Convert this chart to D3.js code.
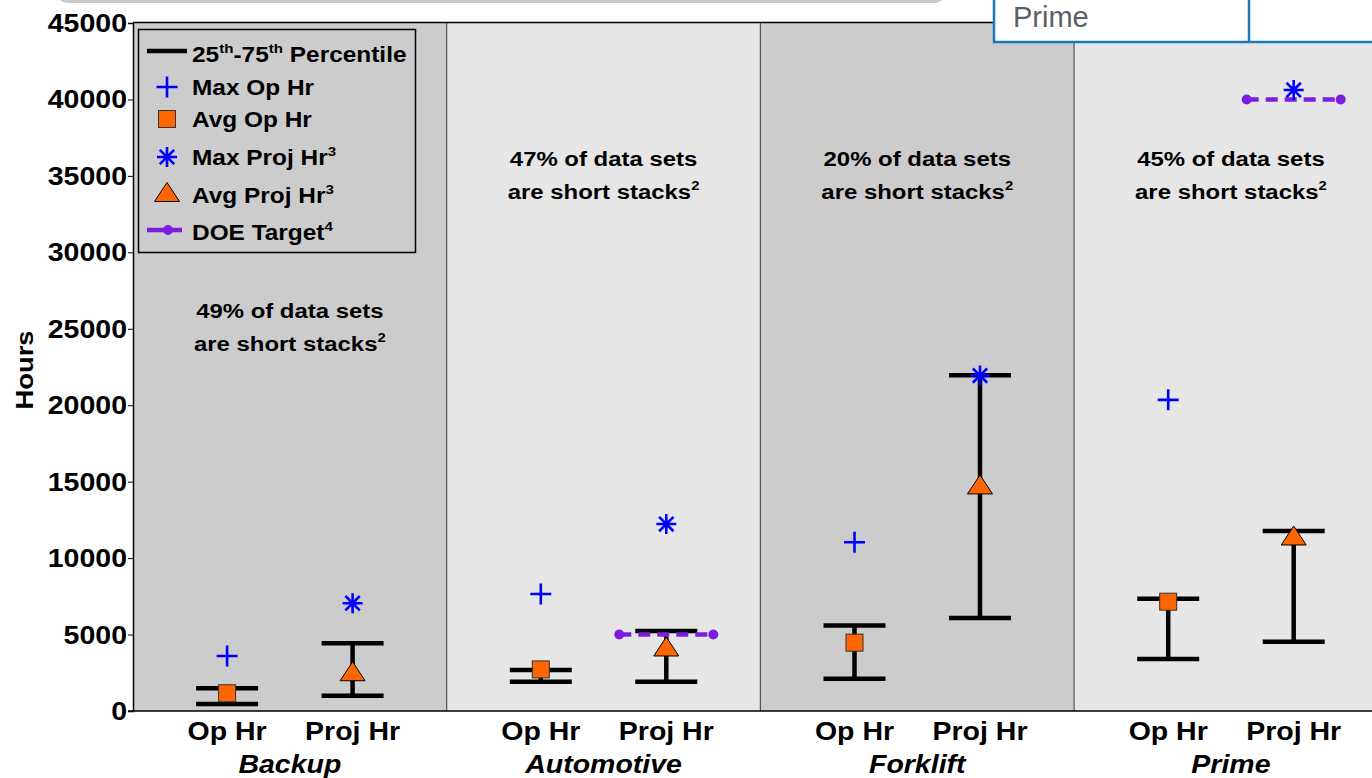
<!DOCTYPE html>
<html>
<head>
<meta charset="utf-8">
<script src="https://cdn.jsdelivr.net/npm/d3@7/dist/d3.min.js"></script>
<style>
body { margin: 0; background: #fff; overflow: hidden; }
text { font-family: Arial, "Liberation Sans", sans-serif; }
</style>
</head>
<body>
<svg id="chart" width="1372" height="778"></svg>
<script>
// values
var groups = ["Backup", "Automotive", "Forklift", "Prime"];
var kinds = ["Op Hr", "Proj Hr"];
var shortPct = [49, 47, 20, 45];
var opP25 = [460, 1920, 2110, 3400];
var opP75 = [1490, 2680, 5600, 7350];
var opAvg = [1160, 2720, 4470, 7150];
var opMax = [3600, 7650, 11040, 20350];
var projP25 = [1000, 1920, 6085, 4535];
var projP75 = [4430, 5230, 21960, 11775];
var projAvg = [2600, 4220, 14820, 11480];
var projMax = [7050, 12230, 21940, 40620];
var doeTarget = [null, 5000, null, 40000];
var yTicks = [0, 5000, 10000, 15000, 20000, 25000, 30000, 35000, 40000, 45000];
var panelFill = ["#cccccc", "#e6e6e6", "#cccccc", "#e6e6e6"];

var margin = {left: 133, top: 23, bottom: 711}
    , panelW = 313.7
    , sx = 1.14
    , blue = "#0000ff"
    , orange = "#ff6600"
    , purple = "#7d1de0";

var svg = d3.select("#chart");

var xGroup = d3.scaleBand().domain(groups).range([margin.left, margin.left + panelW * 4]);
var xKind = d3.scalePoint().domain(kinds).range([0, xGroup.bandwidth()]).padding(0.75);
var y = d3.scaleLinear().domain([0, 45000]).range([margin.bottom, margin.top]);

function cx(i, k) { return xGroup(groups[i]) + xKind(kinds[k]); }

// stretched bold text like the original
function label(g, x, yy, size, anchor, stretch) {
    return g.append("text")
        .attr("transform", "translate(" + x + "," + yy + ") scale(" + (stretch || sx) + ",1)")
        .attr("text-anchor", anchor || "middle")
        .style("font-size", size + "px")
        .style("font-weight", "bold")
        .style("fill", "#000");
}
// superscript, optionally followed by normal text
function sup(t, s, size, after) {
    t.append("tspan").attr("dy", -size * 0.42).style("font-size", (size * 0.62) + "px").text(s);
    if (after) t.append("tspan").attr("dy", size * 0.42).text(after);
    return t;
}

// panels
svg.selectAll(".panel").data(groups).enter().append("rect")
    .attr("x", function (d) { return xGroup(d); })
    .attr("y", margin.top)
    .attr("width", xGroup.bandwidth())
    .attr("height", margin.bottom - margin.top)
    .style("fill", function (d, i) { return panelFill[i]; });
svg.selectAll(".divider").data(groups.slice(1)).enter().append("line")
    .attr("x1", function (d) { return xGroup(d); }).attr("x2", function (d) { return xGroup(d); })
    .attr("y1", margin.top).attr("y2", margin.bottom)
    .style("stroke", "#555").style("stroke-width", 1.2);

// frame + y axis
svg.append("line").attr("x1", margin.left).attr("x2", 1372).attr("y1", margin.top - 0.5).attr("y2", margin.top - 0.5)
    .style("stroke", "#000").style("stroke-width", 1.5);
svg.append("line").attr("x1", margin.left - 5).attr("x2", 1372).attr("y1", margin.bottom).attr("y2", margin.bottom)
    .style("stroke", "#000").style("stroke-width", 1.5);
var yAxis = d3.axisLeft(y).tickValues(yTicks).tickSize(5).tickFormat(function (d) { return d; });
var ax = svg.append("g").attr("transform", "translate(" + margin.left + ",0)").call(yAxis);
ax.select(".domain").style("stroke-width", 1.5);
ax.selectAll(".tick text").remove();
ax.selectAll(".tick").each(function (d) {
    label(svg, margin.left - 6, y(d) + 9, 25, "end").text(d);
});
svg.append("text")
    .attr("transform", "translate(33,370) rotate(-90) scale(1.14,1)")
    .attr("text-anchor", "middle")
    .style("font-size", "24px").style("font-weight", "bold").text("Hours");

// x labels
groups.forEach(function (g, i) {
    kinds.forEach(function (k, j) {
        label(svg, cx(i, j), 740, 25).text(k);
    });
    label(svg, xGroup(g) + xGroup.bandwidth() / 2, 773, 25).style("font-style", "italic").text(g);
});

// short stack notes
groups.forEach(function (g, i) {
    var mx = xGroup(g) + xGroup.bandwidth() / 2;
    var top = i === 0 ? 318 : 166;
    label(svg, mx, top, 21).text(shortPct[i] + "% of data sets");
    sup(label(svg, mx, top + 33, 21).text("are short stacks"), "2", 21);
});

// error bars
var bars = [];
groups.forEach(function (g, i) {
    bars.push({x: cx(i, 0), lo: opP25[i], hi: opP75[i]});
    bars.push({x: cx(i, 1), lo: projP25[i], hi: projP75[i]});
});
var capW = 31;
var eb = svg.selectAll(".eb").data(bars).enter().append("g").style("stroke", "#000").style("stroke-width", 4.5);
eb.append("line").attr("x1", function (d) { return d.x; }).attr("x2", function (d) { return d.x; })
    .attr("y1", function (d) { return y(d.lo); }).attr("y2", function (d) { return y(d.hi); });
eb.append("line").attr("x1", function (d) { return d.x - capW; }).attr("x2", function (d) { return d.x + capW; })
    .attr("y1", function (d) { return y(d.lo); }).attr("y2", function (d) { return y(d.lo); });
eb.append("line").attr("x1", function (d) { return d.x - capW; }).attr("x2", function (d) { return d.x + capW; })
    .attr("y1", function (d) { return y(d.hi); }).attr("y2", function (d) { return y(d.hi); });

// DOE target
function doe(g, x1, x2, yy) {
    g.append("line").attr("x1", x1).attr("x2", x2).attr("y1", yy).attr("y2", yy)
        .style("stroke", purple).style("stroke-width", 4.5).style("stroke-dasharray", "12,7");
    g.append("circle").attr("cx", x1).attr("cy", yy).attr("r", 5).style("fill", purple);
    g.append("circle").attr("cx", x2).attr("cy", yy).attr("r", 5).style("fill", purple);
}
doeTarget.forEach(function (d, i) {
    if (d === null) return;
    doe(svg, cx(i, 1) - 47, cx(i, 1) + 47, y(d));
});

// markers
function plus(g, x, yy, s) {
    g.append("path").attr("d", "M" + (x - s) + "," + yy + "H" + (x + s) + "M" + x + "," + (yy - s) + "V" + (yy + s))
        .style("stroke", blue).style("stroke-width", 2.6).style("fill", "none");
}
function star(g, x, yy, s) {
    var d2 = s * 0.72;
    g.append("path").attr("d", "M" + (x - s) + "," + yy + "H" + (x + s) + "M" + x + "," + (yy - s) + "V" + (yy + s) +
        "M" + (x - d2) + "," + (yy - d2) + "L" + (x + d2) + "," + (yy + d2) +
        "M" + (x - d2) + "," + (yy + d2) + "L" + (x + d2) + "," + (yy - d2))
        .style("stroke", blue).style("stroke-width", 2.6).style("fill", "none");
}
function square(g, x, yy, s) {
    g.append("rect").attr("x", x - s).attr("y", yy - s).attr("width", 2 * s).attr("height", 2 * s)
        .style("fill", orange).style("stroke", "#333").style("stroke-width", 1);
}
function tri(g, x, yy, w, h) {
    g.append("path").attr("d", "M" + x + "," + (yy - h / 2) + "L" + (x + w / 2) + "," + (yy + h / 2) + "L" + (x - w / 2) + "," + (yy + h / 2) + "Z")
        .style("fill", orange).style("stroke", "#000").style("stroke-width", 1);
}
groups.forEach(function (g, i) {
    plus(svg, cx(i, 0), y(opMax[i]), 10.5);
    square(svg, cx(i, 0), y(opAvg[i]), 8.5);
    tri(svg, cx(i, 1), y(projAvg[i]), 25, 19);
    star(svg, cx(i, 1), y(projMax[i]), 10);
});

// legend
var lg = svg.append("g");
lg.append("rect").attr("x", 138.5).attr("y", 29.5).attr("width", 277).attr("height", 223)
    .style("fill", "#cccccc").style("stroke", "#000").style("stroke-width", 1.5);
var lx = 167, tx = 192, ls = 22, lsx = 1.11;
lg.append("line").attr("x1", 147).attr("x2", 187).attr("y1", 51).attr("y2", 51).style("stroke", "#000").style("stroke-width", 4.5);
var t0 = label(lg, tx, 62, ls, "start", lsx).text("25");
sup(t0, "th", ls, "-75");
sup(t0, "th", ls, " Percentile");
plus(lg, lx, 87, 10.5);
label(lg, tx, 95, ls, "start", lsx).text("Max Op Hr");
square(lg, lx, 119, 8.5);
label(lg, tx, 127, ls, "start", lsx).text("Avg Op Hr");
star(lg, lx, 157, 10);
sup(label(lg, tx, 165, ls, "start", lsx).text("Max Proj Hr"), "3", ls);
tri(lg, lx, 192, 25, 19);
sup(label(lg, tx, 203, ls, "start", lsx).text("Avg Proj Hr"), "3", ls);
lg.append("line").attr("x1", 147).attr("x2", 182).attr("y1", 230).attr("y2", 230).style("stroke", purple).style("stroke-width", 4.5);
lg.append("circle").attr("cx", 168).attr("cy", 230).attr("r", 5).style("fill", purple);
sup(label(lg, tx, 240, ls, "start", lsx).text("DOE Target"), "4", ls);

// page bits around the chart
svg.append("rect").attr("x", 57).attr("y", -20).attr("width", 888).attr("height", 23).attr("rx", 10)
    .style("fill", "#c8c8c8");
svg.append("rect").attr("x", 994).attr("y", -10).attr("width", 400).attr("height", 52)
    .style("fill", "#fff").style("stroke", "#1e78be").style("stroke-width", 2.5);
svg.append("line").attr("x1", 1249).attr("x2", 1249).attr("y1", -10).attr("y2", 42)
    .style("stroke", "#1e78be").style("stroke-width", 2.5);
svg.append("text").attr("x", 1013).attr("y", 27).style("font-size", "29px").style("fill", "#595f66").text("Prime");
</script>
</body>
</html>
